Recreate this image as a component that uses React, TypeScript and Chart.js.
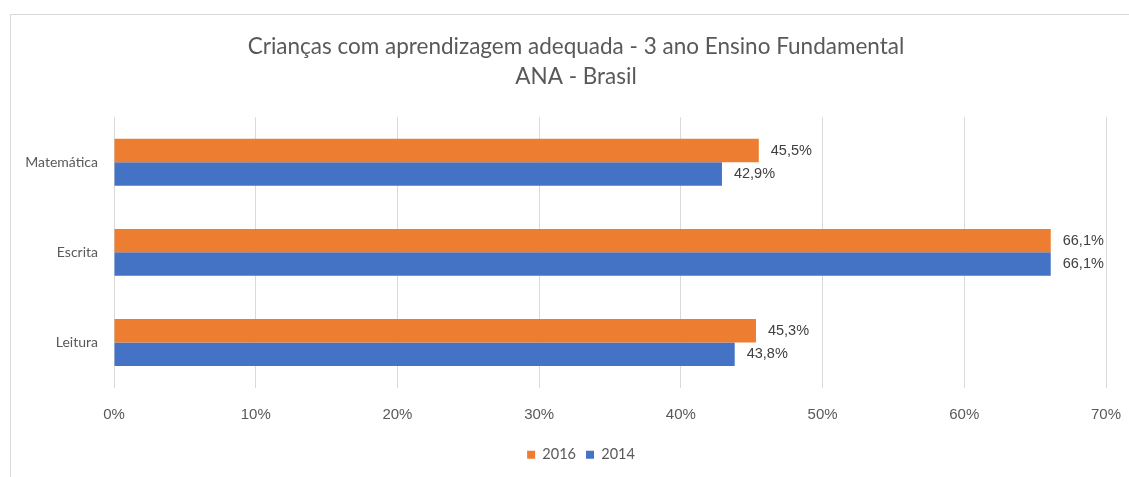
import React, { useEffect, useRef } from "react";
import { Chart, registerables } from "chart.js";

Chart.register(...registerables);

const titleLines = ["Crianças com aprendizagem adequada - 3 ano Ensino Fundamental", "ANA - Brasil"];
const categories = ["Matemática", "Escrita", "Leitura"];
const seriesLabels = ["2016", "2014"];
const values2016 = [45.5, 66.1, 45.3];
const values2014 = [42.9, 66.1, 43.8];
const xTicks = [0, 10, 20, 30, 40, 50, 60, 70];

const ORANGE = "#ED7D31";
const BLUE = "#4472C4";
const TEXT = "#595959";

const frame = {
  id: "frame",
  beforeDraw(chart: any) {
    const ctx = chart.ctx;
    ctx.save();
    ctx.fillStyle = "#ffffff";
    ctx.fillRect(0, 0, chart.width, chart.height);
    ctx.strokeStyle = "#d9d9d9";
    ctx.lineWidth = 1;
    ctx.strokeRect(10.5, 14.5, chart.width + 20, chart.height + 20);
    ctx.restore();
  },
};

// centre title and legend over the same span as in the reference
const centreBlocks = {
  id: "centreBlocks",
  afterLayout(chart: any) {
    const t = chart.titleBlock;
    if (t) {
      t.left = 46;
      t.right = chart.chartArea.right;
      t.width = t.right - t.left;
    }
    const l = chart.legend;
    if (l) {
      l.left = 56;
      l.right = chart.chartArea.right;
      l.width = l.right - l.left;
    }
  },
};

const valueLabels = {
  id: "valueLabels",
  afterDatasetsDraw(chart: any) {
    const ctx = chart.ctx;
    ctx.save();
    ctx.font = '14.5px "Liberation Sans", Arial, sans-serif';
    ctx.fillStyle = "#404040";
    ctx.textAlign = "left";
    ctx.textBaseline = "middle";
    chart.data.datasets.forEach((ds: any, di: number) => {
      const meta = chart.getDatasetMeta(di);
      meta.data.forEach((el: any, i: number) => {
        const v = ds.data[i] as number;
        const txt = v.toFixed(1).replace(".", ",") + "%";
        ctx.fillText(txt, el.x + 12, el.y);
      });
    });
    ctx.restore();
  },
};

export default function App() {
  const ref = useRef<HTMLCanvasElement>(null);
  useEffect(() => {
    if (!ref.current) return;
    const chart = new Chart(ref.current, {
      type: "bar",
      data: {
        labels: categories,
        datasets: [
          { label: seriesLabels[0], data: values2016, backgroundColor: ORANGE, borderWidth: 0 },
          { label: seriesLabels[1], data: values2014, backgroundColor: BLUE, borderWidth: 0 },
        ],
      },
      options: {
        indexAxis: "y",
        responsive: false,
        animation: false,
        devicePixelRatio: 1,
        layout: { padding: { top: 0, left: 10, right: 23, bottom: 5 } },
        datasets: { bar: { categoryPercentage: 0.52, barPercentage: 1 } },
        plugins: {
          title: {
            display: true,
            text: titleLines,
            color: TEXT,
            font: { family: "Lato", size: 22.5, weight: "normal", lineHeight: 1.36 },
            padding: { top: 31, bottom: 25 },
          },
          legend: {
            display: true,
            position: "bottom",
            labels: {
              boxWidth: 8,
              boxHeight: 8,
              color: TEXT,
              padding: 10,
              font: { family: "Lato", size: 14.5 },
            },
          },
          tooltip: { enabled: false },
        },
        scales: {
          x: {
            min: xTicks[0],
            max: xTicks[xTicks.length - 1],
            afterBuildTicks: (scale: any) => {
              scale.ticks = xTicks.map((v) => ({ value: v }));
            },
            afterFit: (scale: any) => {
              scale.height = 50;
            },
            grid: { color: "#d9d9d9", lineWidth: 1, drawTicks: true, tickLength: 18, tickColor: "rgba(0,0,0,0)" },
            border: { display: false },
            ticks: {
              padding: 0,
              color: TEXT,
              font: { family: '"Liberation Sans", Arial', size: 15 },
              callback: (v: any) => v + "%",
            },
          },
          y: {
            afterFit: (scale: any) => {
              scale.width = 104;
            },
            grid: { display: false, drawTicks: false },
            border: { display: false },
            ticks: {
              padding: 16,
              color: TEXT,
              font: { family: "Lato", size: 14 },
            },
          },
        },
      },
      plugins: [frame, centreBlocks, valueLabels],
    } as any);
    return () => chart.destroy();
  }, []);
  return (
    <div style={{ position: "fixed", left: 0, top: 0, width: 1129, height: 477 }}>
      <canvas ref={ref} width={1129} height={477} style={{ display: "block" }} />
    </div>
  );
}
